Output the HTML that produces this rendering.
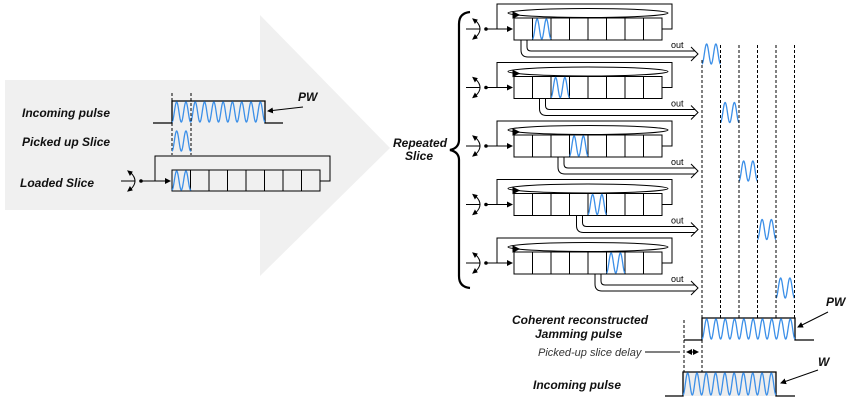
<!DOCTYPE html>
<html><head><meta charset="utf-8"><style>
body{margin:0;background:#fff;}
svg{display:block;font-family:"Liberation Sans",sans-serif;}
.lb{font-weight:bold;font-style:italic;font-size:12px;fill:#111;}
</style></head><body>
<svg id="s" width="847" height="412" viewBox="0 0 847 412" xmlns="http://www.w3.org/2000/svg">
<defs>
<marker id="ah" markerWidth="6" markerHeight="6" refX="5" refY="3" orient="auto" markerUnits="userSpaceOnUse"><path d="M0,0L6,3L0,6z" fill="#000"/></marker>
</defs>
<polygon points="5,80 260,80 260,15 390,148 260,276 260,210 5,210" fill="#f0f0f0"/>
<g id="g" fill="none" stroke="#000" stroke-width="1"></g>
<text class="lb" x="22" y="117">Incoming pulse</text>
<text class="lb" x="22" y="146">Picked up Slice</text>
<text class="lb" x="20" y="187">Loaded Slice</text>
<text class="lb" x="298" y="101">PW</text>
<text class="lb" x="393" y="147">Repeated</text>
<text class="lb" x="405" y="160">Slice</text>
<text class="lb" x="512" y="324">Coherent reconstructed</text>
<text class="lb" x="535" y="338">Jamming pulse</text>
<text class="lb" x="533" y="389">Incoming pulse</text>
<text class="lb" x="826" y="306">PW</text>
<text class="lb" x="818" y="366">W</text>
<text x="538" y="356" font-size="11" font-style="italic" fill="#333">Picked-up slice delay</text>
</svg>
<script>
var g=document.getElementById('g');var h='';
function L(d,ex){h+='<path d="'+d+'" '+(ex||'')+'/>';}
function wave(x0,x1,yt,yb,per){var d='',n=Math.round((x1-x0)*4);for(var i=0;i<=n;i++){var x=x0+(x1-x0)*i/n;var t=(x-x0)/per;var y=(yt+yb)/2+(yb-yt)/2*Math.cos(2*Math.PI*t);d+=(i?'L':'M')+x.toFixed(2)+','+y.toFixed(2);}h+='<path d="'+d+'" stroke="#3b8fe8" stroke-width="1.3"/>';}
function sw(x,y){L('M'+(x-12)+','+y+'L'+(x+2)+','+y);L('M'+(x-2)+','+(y-8)+'Q'+(x+6)+','+y+' '+(x-2)+','+(y+8));h+='<path d="M'+(x-5)+','+(y-10)+'l4,1l-2,3z M'+(x-5)+','+(y+10)+'l4,-1l-2,-3z" fill="#000"/><circle cx="'+(x+8)+'" cy="'+y+'" r="1.3" fill="#000"/>';}
function reg(x,y,w,hh){for(var i=0;i<8;i++)L('M'+(x+i*w)+','+y+'h'+w+'v'+hh+'h'+(-w)+'z');}
// left panel
h+='<path d="M684,372 V372" />';
L('M153,123H172V101H265V123H283',  'stroke-width="1.3"');
wave(172,265,102,122,9.3);
L('M172,93V155 M191,93V155','stroke-dasharray="3,2"');
wave(172,191,131,151,9.3);
reg(172,170,18.5,21);
wave(172,191,171,190,9.3);
L('M320,181H330V156H155V181H170','marker-end="url(#ah)"');
sw(133,181);L('M140,181H155');
L('M303,107L268,111','marker-end="url(#ah)"');
// brace
L('M470,12Q459,13 459,24V140Q459,148 450,150Q459,152 459,160V276Q459,287 470,288','stroke-width="2.2"');
// registers
var w=18.5;
for(var r=0;r<5;r++){var y=18+r*58.5,x=514;
 reg(x,y,w,22);
 L('M'+(x+8*w)+','+(y+11)+'H672V'+(y-14)+'H497V'+(y+11)+'H'+(x-2),'marker-end="url(#ah)"');
 h+='<ellipse cx="588" cy="'+(y-5)+'" rx="80" ry="4.5" fill="none" stroke="#000"/>';
 h+='<path d="M519,'+(y-3)+'l-6,-3v6z" fill="#000"/>';
 sw(478,y+11);L('M485,'+(y+11)+'H497');
 wave(x+(r+1)*w,x+(r+2)*w,y+1,y+21,9.25);
 var px=x+r*w+7;
 L('M'+px+','+(y+22)+'V'+(y+32)+'Q'+px+','+(y+39)+' '+(px+7)+','+(y+39)+'H695');
 L('M'+(px+6)+','+(y+22)+'V'+(y+29)+'Q'+(px+6)+','+(y+33)+' '+(px+10)+','+(y+33)+'H695');
 L('M691,'+(y+29)+'L698,'+(y+36)+'L691,'+(y+43));
 h+='<text x="671" y="'+(y+30)+'" font-size="9" fill="#000" stroke="none">out</text>';
 wave(702+r*w,702+(r+1)*w,y+26,y+46,9.25);
}
for(var k=0;k<6;k++){var xx=702+k*18.5;L('M'+xx+','+(k==0?60:45)+'V318','stroke-dasharray="3,2"');}
// bottom pulses
L('M684,340H702V318H795V340H814','stroke-width="1.3"');
wave(702,795,319,339,9.3);
L('M684,320V396','stroke-dasharray="3,2"');L('M702,340V372','stroke-dasharray="3,2"');
L('M645,352H680');
L('M688,352H698','marker-end="url(#ah)"');L('M698,352H687','marker-end="url(#ah)"');
h+='<path d="M683,372H776V396H683z" fill="#eee" stroke="none"/>';
L('M665,396H683V372H776V396H795','stroke-width="1.3"');
wave(683,776,373,395,9.3);
L('M828,312L798,327','marker-end="url(#ah)"');
L('M818,370L781,383','marker-end="url(#ah)"');
g.innerHTML=h;
</script>
</body></html>
